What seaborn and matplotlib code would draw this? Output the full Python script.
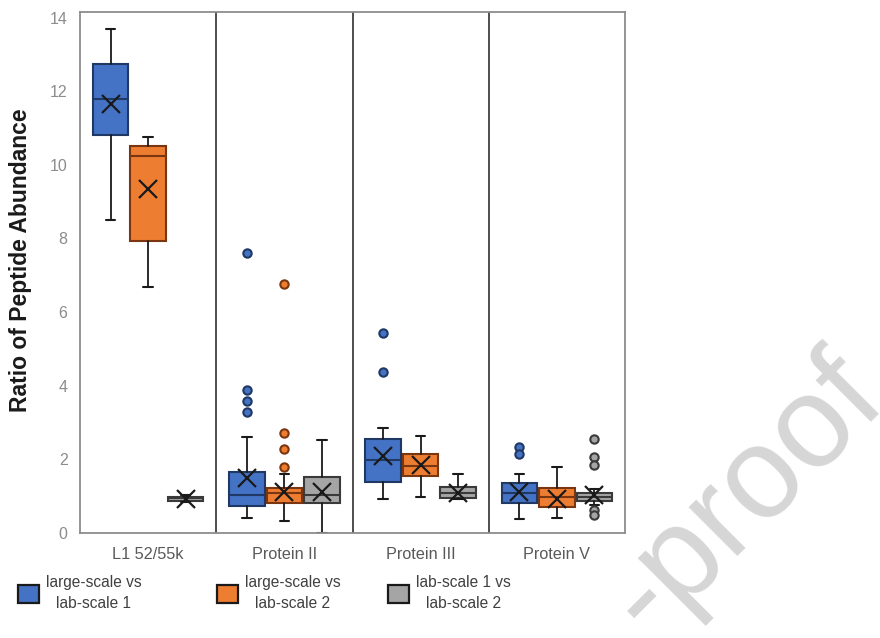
import matplotlib
matplotlib.use("Agg")
import matplotlib.pyplot as plt
import seaborn as sns
from matplotlib.patches import Patch

# Box statistics (one value per protein group)
groups = ["L1 52/55k", "Protein II", "Protein III", "Protein V"]
series = ["large-scale vs\nlab-scale 1", "large-scale vs\nlab-scale 2", "lab-scale 1 vs\nlab-scale 2"]

# large-scale vs lab-scale 1
s1_whislo = [8.5, 0.40, 0.92, 0.38]
s1_q1 = [10.8, 0.73, 1.39, 0.82]
s1_med = [11.8, 1.03, 1.98, 1.09]
s1_q3 = [12.75, 1.66, 2.55, 1.36]
s1_whishi = [13.7, 2.60, 2.85, 1.60]
s1_mean = [11.65, 1.50, 2.10, 1.12]
s1_fliers = [[], [7.6, 3.88, 3.58, 3.28], [5.43, 4.38], [2.33, 2.15]]

# large-scale vs lab-scale 2
s2_whislo = [6.68, 0.33, 0.98, 0.41]
s2_q1 = [7.93, 0.82, 1.55, 0.71]
s2_med = [10.24, 1.09, 1.82, 0.98]
s2_q3 = [10.52, 1.22, 2.15, 1.22]
s2_whishi = [10.76, 1.60, 2.64, 1.79]
s2_mean = [9.35, 1.10, 1.85, 0.93]
s2_fliers = [[], [6.75, 2.72, 2.27, 1.80], [], []]

# lab-scale 1 vs lab-scale 2
s3_whislo = [0.84, 0.0, 0.92, 0.75]
s3_q1 = [0.88, 0.81, 0.95, 0.87]
s3_med = [0.95, 1.03, 1.08, 0.98]
s3_q3 = [0.98, 1.52, 1.25, 1.08]
s3_whishi = [1.02, 2.53, 1.60, 1.20]
s3_mean = [0.92, 1.12, 1.08, 1.03]
s3_fliers = [[], [], [], [2.55, 2.06, 1.85, 0.62, 0.50]]

stats_in = [
    (s1_whislo, s1_q1, s1_med, s1_q3, s1_whishi, s1_mean, s1_fliers),
    (s2_whislo, s2_q1, s2_med, s2_q3, s2_whishi, s2_mean, s2_fliers),
    (s3_whislo, s3_q1, s3_med, s3_q3, s3_whishi, s3_mean, s3_fliers),
]

sns.set_style("white")
plt.rcParams['font.family'] = ['Liberation Sans', 'DejaVu Sans']

fills = ["#4472C4", "#ED7D31", "#A5A5A5"]
edges = ["#1F3864", "#7A3610", "#3A3A3A"]

fig = plt.figure(figsize=(8.8, 6.38), dpi=100)
ax = fig.add_axes([80 / 880, 105 / 638, 545 / 880, 521 / 638])

offsets = [-0.275, 0.0, 0.275]
for k, (lo, q1, med, q3, hi, mean, fl) in enumerate(stats_in):
    bstats = []
    for i in range(len(groups)):
        bstats.append(dict(whislo=lo[i], q1=q1[i], med=med[i], q3=q3[i],
                           whishi=hi[i], mean=mean[i], fliers=fl[i]))
    ax.bxp(bstats, positions=[i + offsets[k] for i in range(len(groups))],
           widths=0.26, patch_artist=True, showmeans=True, capwidths=0.07,
           boxprops=dict(facecolor=fills[k], edgecolor=edges[k], linewidth=1.5),
           medianprops=dict(color=edges[k], linewidth=1.5),
           whiskerprops=dict(color="#1a1a1a", linewidth=1.3),
           capprops=dict(color="#1a1a1a", linewidth=1.5),
           meanprops=dict(marker="x", markeredgecolor="#1a1a1a", markersize=13,
                          markeredgewidth=1.6),
           flierprops=dict(marker="o", markerfacecolor=fills[k], markeredgecolor=edges[k],
                           markersize=6, markeredgewidth=1.5))

# group separators
for x in [0.5, 1.5, 2.5]:
    ax.axvline(x, color="#404040", linewidth=1.3, zorder=0)

ax.set_xlim(-0.5, 3.5)
ax.set_ylim(0, 14.15)
ax.set_yticks(range(0, 15, 2))
ax.set_xticks(range(len(groups)))
ax.set_xticklabels(groups)
ax.tick_params(axis="x", length=0, pad=10, labelsize=11.7, labelcolor="#595959")
ax.tick_params(axis="y", length=0, pad=9, labelsize=11.5, labelcolor="#8c8c8c")
for s in ax.spines.values():
    s.set_color("#8c8c8c")
    s.set_linewidth(1.3)

ax.set_ylabel("Ratio of Peptide Abundance", fontsize=16.5, fontweight="bold", color="#1a1a1a")
ax.yaxis.set_label_coords(-0.088, 0.524)

# one legend entry per column, placed like the original
leg_x = [18 / 880, 217 / 880, 388 / 880]
for k in range(3):
    h = Patch(facecolor=fills[k], edgecolor="#1a1a1a", linewidth=1.6)
    leg = fig.legend([h], [series[k]], loc="center left", bbox_to_anchor=(leg_x[k], 45 / 638),
                     frameon=False, fontsize=11.2, handlelength=1.35, handleheight=1.4,
                     handletextpad=0.45, borderpad=0, borderaxespad=0)
    for t in leg.get_texts():
        t.set_multialignment("center")
        t.set_linespacing(1.5)
        t.set_color("#404040")

# journal watermark (only the visible end of it)
fig.text(888 / 880, 1 - 400 / 638, "-proof", rotation=45, rotation_mode="anchor",
         ha="right", va="baseline", fontsize=93, color="#d6d6d6", zorder=10)

fig.savefig("out.png", dpi=100)
